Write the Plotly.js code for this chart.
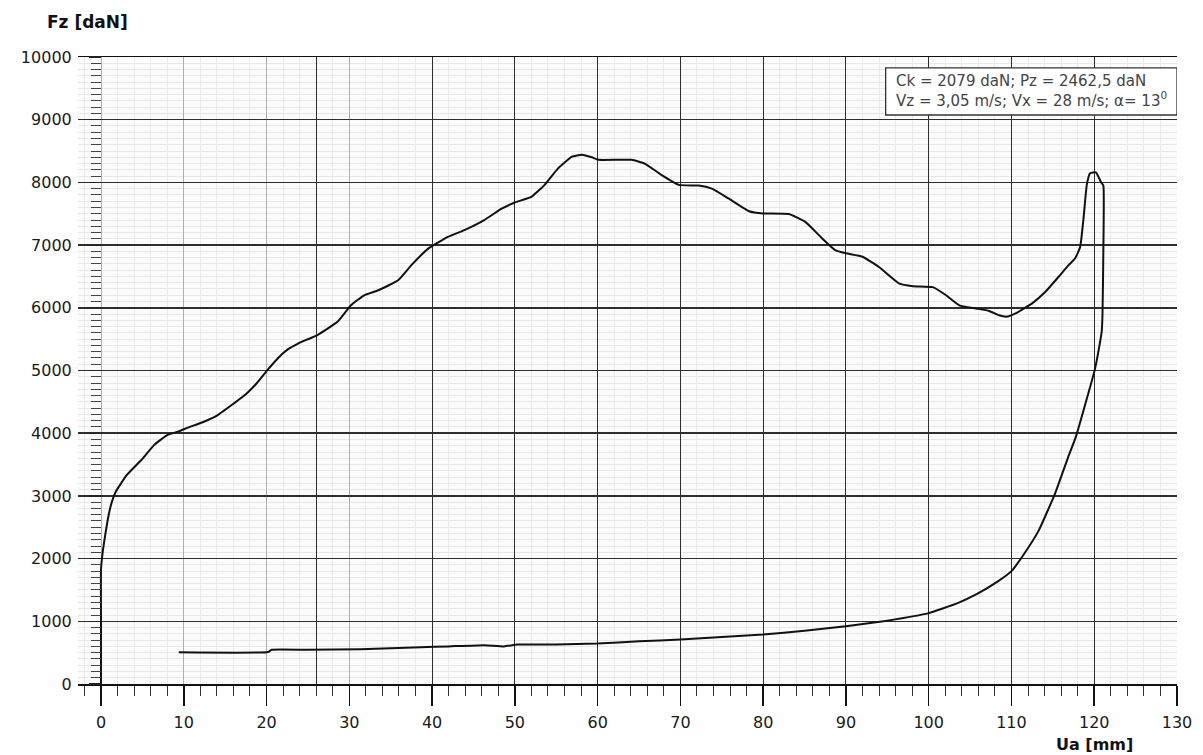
<!DOCTYPE html>
<html>
<head>
<meta charset="utf-8">
<script src="https://cdn.plot.ly/plotly-3.0.1.min.js"></script>
<style>html,body{margin:0;padding:0;background:#fff;}#chart{width:1203px;height:755px;}</style>
</head>
<body>
<div id="chart"></div>
<script>
// Displacement Ua [mm] along the recorded path (loading then unloading)
const ua = [0,0,0,0.25,0.5,0.9,1.3,1.8,3.1,5.0,
  6.4,8.0,9.4,10.5,12.2,14.0,16.0,17.5,18.7,20.0,
  21.4,22.6,23.8,26.2,28.6,30.2,31.8,33.5,35.9,37.5,
  39.5,41.9,43.9,46.3,48.4,50.0,52.0,53.6,55.2,56.9,
  58.1,59.3,60.1,64.1,65.7,67.7,69.8,72.2,73.8,75.8,
  78.3,80.0,83.1,85.1,87.1,88.7,90.0,92.0,94.0,96.4,
  98.1,100.5,102.1,103.7,105.7,107.3,108.5,109.5,110.5,112.5,
  114.1,115.7,116.9,117.7,118.3,118.7,119.1,119.5,120.2,120.8,
  121.1,121.1,121.0,120.9,120.5,120.1,119.0,117.8,116.8,115.3,
  113.3,111.4,110.0,108.4,105.9,103.5,100.0,95.0,90.0,85.0,
  80,75,70,65,60,55,50.3,48.7,46.3,42.0,
  38.6,31.4,25.0,20.6,20.2,9.4];
// Force Fz [daN]
const fz = [0,1000,1835,2150,2370,2680,2900,3070,3330,3590,
  3810,3970,4030,4090,4170,4280,4470,4620,4780,4990,
  5200,5340,5430,5570,5780,6040,6200,6280,6440,6680,
  6940,7130,7240,7400,7580,7680,7770,7960,8220,8410,
  8440,8400,8360,8360,8300,8120,7960,7950,7900,7745,
  7540,7505,7495,7370,7110,6920,6870,6815,6650,6390,
  6345,6330,6200,6040,5990,5950,5880,5860,5910,6070,
  6255,6495,6680,6790,6970,7420,7960,8145,8160,8010,
  7950,6900,5900,5620,5300,5030,4500,3950,3600,3050,
  2450,2050,1800,1640,1440,1290,1130,1010,920,850,
  790,750,710,680,645,630,630,600,620,600,
  585,555,545,545,510,505];

const xTicks = [0,10,20,30,40,50,60,70,80,90,100,110,120,130];
const xDarkGrid = [26,40,50,60,70,80,90,100,110,120,130];
const yTicks = [0,1000,2000,3000,4000,5000,6000,7000,8000,9000,10000];
const yTickText = ['0','1000','2000','3000','4000','5000','6000','7000','8000','9000','10000'];
const yTitle = 'Fz [daN]';
const xTitle = 'Ua [mm]';
const infoLines = ['Ck = 2079 daN; Pz = 2462,5 daN', 'Vz = 3,05 m/s; Vx = 28 m/s; α= 13<sup>0</sup>'];

const traces = [
  {x: ua, y: fz, type: 'scatter', mode: 'lines', line: {color: '#111', width: 2, shape: 'spline', smoothing: 0.4}, xaxis: 'x', yaxis: 'y', hoverinfo: 'skip'},
  {x: [], y: [], type: 'scatter', mode: 'lines', xaxis: 'x2', yaxis: 'y', showlegend: false}
];

const tickFont = {family: 'DejaVu Sans, Arial, sans-serif', size: 16, color: '#1a1a1a'};
const layout = {
  width: 1203, height: 755,
  margin: {l: 78, r: 26, t: 57, b: 71},
  paper_bgcolor: '#ffffff',
  plot_bgcolor: '#fbfbfb',
  showlegend: false,
  xaxis: {
    range: [-2.78, 130], tickmode: 'array', tickvals: xTicks,
    ticks: 'outside', ticklen: 20, tickwidth: 1.5, tickcolor: '#111',
    showline: true, linecolor: '#111', linewidth: 1.5, mirror: true,
    showgrid: true, gridcolor: '#b0b0b0', gridwidth: 1,
    zeroline: false, tickfont: tickFont, ticklabelstandoff: 3,
    minor: {dtick: 2, tick0: 0, ticks: 'outside', ticklen: 10, tickwidth: 1, tickcolor: '#333', showgrid: true, gridcolor: '#ebebeb', gridwidth: 1}
  },
  xaxis2: {
    overlaying: 'x', matches: 'x', tickmode: 'array', tickvals: xDarkGrid,
    showticklabels: false, ticks: '', showgrid: true, gridcolor: '#2e2e2e', gridwidth: 1,
    zeroline: false, showline: false
  },
  yaxis: {
    range: [0, 10000], tickmode: 'array', tickvals: yTicks, ticktext: yTickText,
    anchor: 'free', position: 0.0209,
    ticks: 'outside', ticklen: 12, tickwidth: 1.2, tickcolor: '#222',
    showgrid: true, gridcolor: '#2e2e2e', gridwidth: 1.5,
    showline: false, zeroline: false, tickfont: tickFont, ticklabelstandoff: 14,
    minor: {dtick: 100, tick0: 0, ticks: 'outside', ticklen: 10, tickwidth: 1, tickcolor: '#444', showgrid: true, gridcolor: '#e8e8e8', gridwidth: 1}
  },
  shapes: [
    {type: 'rect', xref: 'x', yref: 'y', x0: 94.8, x1: 130, y0: 9075, y1: 9825,
     fillcolor: '#ffffff', line: {color: '#333', width: 1.3}, layer: 'above'}
  ],
  annotations: [
    {text: infoLines.join('<br>'), xref: 'x', yref: 'y', x: 95.8, y: 9460, xanchor: 'left', yanchor: 'middle',
     align: 'left', showarrow: false, font: {family: 'DejaVu Sans, sans-serif', size: 15, color: '#444'}},
    {text: '<b>' + yTitle + '</b>', xref: 'paper', yref: 'paper', x: 0.009, y: 1.056, xanchor: 'center', yanchor: 'middle',
     showarrow: false, font: {family: 'DejaVu Sans, sans-serif', size: 17, color: '#111'}},
    {text: '<b>' + xTitle + '</b>', xref: 'paper', yref: 'paper', x: 0.925, y: -0.096, xanchor: 'center', yanchor: 'middle',
     showarrow: false, font: {family: 'DejaVu Sans, sans-serif', size: 16, color: '#111'}}
  ]
};

Plotly.newPlot('chart', traces, layout, {displayModeBar: false, staticPlot: true});
</script>
</body>
</html>
